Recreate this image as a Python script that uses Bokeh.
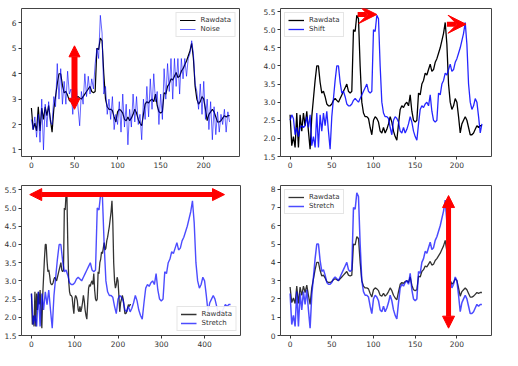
from bokeh.plotting import figure
from bokeh.layouts import column, row
from bokeh.models import Range1d, FixedTicker, Arrow, NormalHead, VeeHead, PrintfTickFormatter
from bokeh.embed import file_html
from bokeh.resources import INLINE

# ---------------- data ----------------
x = list(range(0, 231, 2))

raw = [
    2.65, 1.80, 2.05, 1.75, 2.70, 1.75, 2.65, 2.20, 2.70, 2.35,
    2.75, 2.20, 1.70, 2.60, 3.10, 3.60, 4.00, 4.00, 3.55, 3.25,
    3.30, 3.15, 2.95, 2.90, 2.90, 2.95, 3.05, 3.10, 3.05, 3.00,
    3.10, 3.20, 3.30, 3.40, 3.50, 3.30, 3.25, 3.30, 5.00, 4.95,
    5.40, 5.30, 4.00, 3.00, 2.70, 2.60, 2.60, 2.55, 2.30, 2.10,
    2.50, 2.60, 2.55, 2.45, 2.20, 2.15, 2.30, 2.15, 2.25, 2.40,
    2.60, 2.45, 2.20, 2.05, 1.95, 2.40, 2.80, 2.90, 2.85, 2.95,
    3.00, 2.90, 3.20, 2.75, 2.50, 2.45, 2.50, 3.25, 3.20, 3.50,
    3.60, 3.80, 3.75, 3.90, 4.05, 3.85, 3.90, 4.10, 4.20, 4.35,
    4.50, 4.70, 4.90, 5.20, 4.60, 3.50, 3.00, 2.80, 2.90, 3.10,
    3.00, 2.60, 2.15, 2.40, 2.50, 2.60, 2.50, 2.30, 2.10, 2.10,
    2.15, 2.25, 2.35, 2.30, 2.35, 2.35]

noise = [
    2.2, 1.8, 2.3, 1.5, 2.4, 1.3, 3.0, 1.0, 2.8, 1.9,
    2.9, 2.1, 2.0, 3.1, 2.7, 4.4, 3.0, 4.2, 2.8, 3.7,
    2.8, 4.1, 3.2, 3.4, 2.4, 3.4, 3.6, 2.7, 1.95, 3.3,
    2.8, 4.0, 3.1, 3.9, 3.2, 3.8, 3.4, 4.4, 5.0, 4.6,
    6.3, 5.6, 3.2, 3.5, 2.4, 3.0, 2.2, 3.1, 1.8, 2.4,
    2.0, 2.9, 1.7, 3.2, 1.9, 2.8, 1.2, 2.6, 1.9, 3.2,
    2.1, 3.1, 2.0, 2.4, 1.4, 3.0, 2.2, 3.5, 2.3, 3.8,
    2.6, 4.0, 2.9, 3.3, 2.0, 3.2, 2.2, 4.2, 3.0, 4.4,
    3.3, 4.6, 3.0, 4.6, 3.5, 4.6, 3.2, 4.6, 3.8, 4.6,
    3.9, 4.6, 4.8, 5.3, 4.8, 3.6, 3.3, 2.6, 3.6, 2.4,
    3.7, 2.2, 3.0, 1.8, 2.9, 1.4, 2.7, 1.6, 2.5, 1.7,
    2.4, 2.0, 2.6, 1.7, 2.5, 2.1]

# shifted series: a short lead-in, then the raw data delayed
shift_lead = [2.5, 2.65, 2.55, 2.1, 2.3, 2.05, 2.3, 2.35, 2.3, 2.35, 2.6, 2.3]
shift = shift_lead + raw[:len(raw) - len(shift_lead)]

# time-stretched series: raw values on a doubled time axis
stretch_factor = 2
x_stretch = [v * stretch_factor for v in x]

# magnitude-stretched series
magnitude = [
    2.3, 0.6, 1.1, 0.5, 2.4, 0.5, 2.3, 1.4, 2.4, 1.7,
    2.5, 1.4, 0.4, 2.2, 3.2, 4.2, 5.0, 5.0, 4.1, 3.5,
    3.6, 3.3, 2.9, 2.8, 2.8, 2.9, 3.1, 3.2, 3.1, 3.0,
    3.2, 3.4, 3.6, 3.8, 4.0, 3.6, 3.5, 3.6, 7.0, 6.9,
    7.8, 7.6, 5.0, 3.0, 2.4, 2.2, 2.2, 2.1, 1.6, 1.2,
    2.0, 2.2, 2.1, 1.9, 1.4, 1.3, 1.6, 1.3, 1.5, 1.8,
    2.2, 1.9, 1.4, 1.1, 0.9, 1.8, 2.6, 2.8, 2.7, 2.9,
    3.0, 2.8, 3.4, 2.5, 2.0, 1.9, 2.0, 3.5, 3.4, 4.0,
    4.2, 4.6, 4.5, 4.8, 5.1, 4.7, 4.8, 5.2, 5.4, 5.7,
    6.0, 6.4, 6.8, 7.4, 6.2, 4.0, 3.0, 2.6, 2.8, 3.2,
    3.0, 2.2, 1.3, 1.8, 2.0, 2.2, 2.0, 1.6, 1.2, 1.2,
    1.3, 1.5, 1.7, 1.6, 1.7, 1.7]

ticks_x1 = [0, 50, 100, 150, 200]
ticks_y1 = [1, 2, 3, 4, 5, 6]
ticks_y2 = [1.5, 2.0, 2.5, 3.0, 3.5, 4.0, 4.5, 5.0, 5.5]
ticks_x3 = [0, 100, 200, 300, 400]
ticks_y4 = [0, 1, 2, 3, 4, 5, 6, 7, 8]

BLUE = "#0000ff"
RED = "#ff0000"
FONT = "DejaVu Sans"


def make(xr, yr, left, right, top, bottom, xt, yt, yfmt=None):
    p = figure(width=251, height=175, x_range=Range1d(*xr), y_range=Range1d(*yr),
               output_backend="svg", toolbar_location=None,
               min_border_left=left, min_border_right=right,
               min_border_top=top, min_border_bottom=bottom)
    p.xgrid.visible = False
    p.ygrid.visible = False
    p.outline_line_color = "#444444"
    p.outline_line_width = 1
    p.background_fill_color = "white"
    for ax in (p.xaxis[0], p.yaxis[0]):
        ax.axis_line_color = None
        ax.major_tick_line_color = "#333333"
        ax.major_tick_out = 3
        ax.major_tick_in = 0
        ax.minor_tick_line_color = None
        ax.major_label_text_font = FONT
        ax.major_label_text_font_size = "7.5px"
        ax.major_label_text_color = "#333333"
        ax.major_label_standoff = 2
    p.xaxis[0].ticker = FixedTicker(ticks=xt)
    p.yaxis[0].ticker = FixedTicker(ticks=yt)
    if yfmt:
        p.yaxis[0].formatter = PrintfTickFormatter(format=yfmt)
    return p


def style_legend(p, loc):
    lg = p.legend[0]
    lg.location = loc
    lg.label_text_font = FONT
    lg.label_text_font_size = "7px"
    lg.label_text_color = "#333333"
    lg.glyph_height = 8
    lg.glyph_width = 16
    lg.label_height = 8
    lg.label_standoff = 5
    lg.spacing = 1
    lg.padding = 3
    lg.margin = 4
    lg.border_line_color = "#cccccc"
    lg.background_fill_alpha = 0.9


def arrow(p, xs, ys, xe, ye, both=True, vee=False, size=11, width=5):
    if vee:
        end = VeeHead(size=size, fill_color=RED, line_color=RED)
    else:
        end = NormalHead(size=size, fill_color=RED, line_color=RED)
    start = NormalHead(size=size, fill_color=RED, line_color=RED) if both else None
    p.add_layout(Arrow(start=start, end=end, x_start=xs, y_start=ys, x_end=xe, y_end=ye,
                       line_color=RED, line_width=width))


# ---- panel 1: noise ----
p1 = make((-11.5, 241.5), (0.74, 6.57), 21, 12, 8, 18, ticks_x1, ticks_y1)
p1.line(x, raw, color="black", line_width=1.2, legend_label="Rawdata")
p1.line(x, noise, color=BLUE, line_width=1, alpha=0.6, legend_label="Noise")
style_legend(p1, "top_right")
arrow(p1, 50, 2.6, 50, 5.1, size=11, width=6)

# ---- panel 2: shift ----
p2 = make((-11.5, 241.5), (1.5, 5.585), 29, 11, 8, 19, ticks_x1, ticks_y2, "%.1f")
p2.line(x, raw, color="black", line_width=1.3, legend_label="Rawdata")
p2.line(x, shift, color=BLUE, line_width=1.3, alpha=0.85, legend_label="Shift")
style_legend(p2, "top_left")
arrow(p2, 81, 5.42, 104, 5.42, both=False, vee=True, size=18, width=5)
arrow(p2, 188, 5.15, 211, 5.15, both=False, vee=True, size=18, width=5)

# ---- panel 3: time stretch ----
p3 = make((-23, 483), (1.5, 5.62), 21, 11, 10, 15, ticks_x3, ticks_y2, "%.1f")
p3.line(x, raw, color="black", line_width=1.3, alpha=0.8, legend_label="Rawdata")
p3.line(x_stretch, raw, color=BLUE, line_width=1.4, alpha=0.7, legend_label="Stretch")
style_legend(p3, "bottom_right")
arrow(p3, -4, 5.37, 446, 5.37, size=12, width=5)

# ---- panel 4: magnitude stretch ----
p4 = make((-11.5, 241.5), (0.0, 8.2), 29, 11, 10, 15, ticks_x1, ticks_y4)
p4.line(x, raw, color="black", line_width=1.3, alpha=0.8, legend_label="Rawdata")
p4.line(x, magnitude, color=BLUE, line_width=1.5, alpha=0.7, legend_label="Stretch")
style_legend(p4, "top_left")
arrow(p4, 190, 0.4, 190, 7.65, size=12, width=5)

layout = column(row(p1, p2), row(p3, p4))

open("out.html", "w").write(file_html(layout, INLINE))
